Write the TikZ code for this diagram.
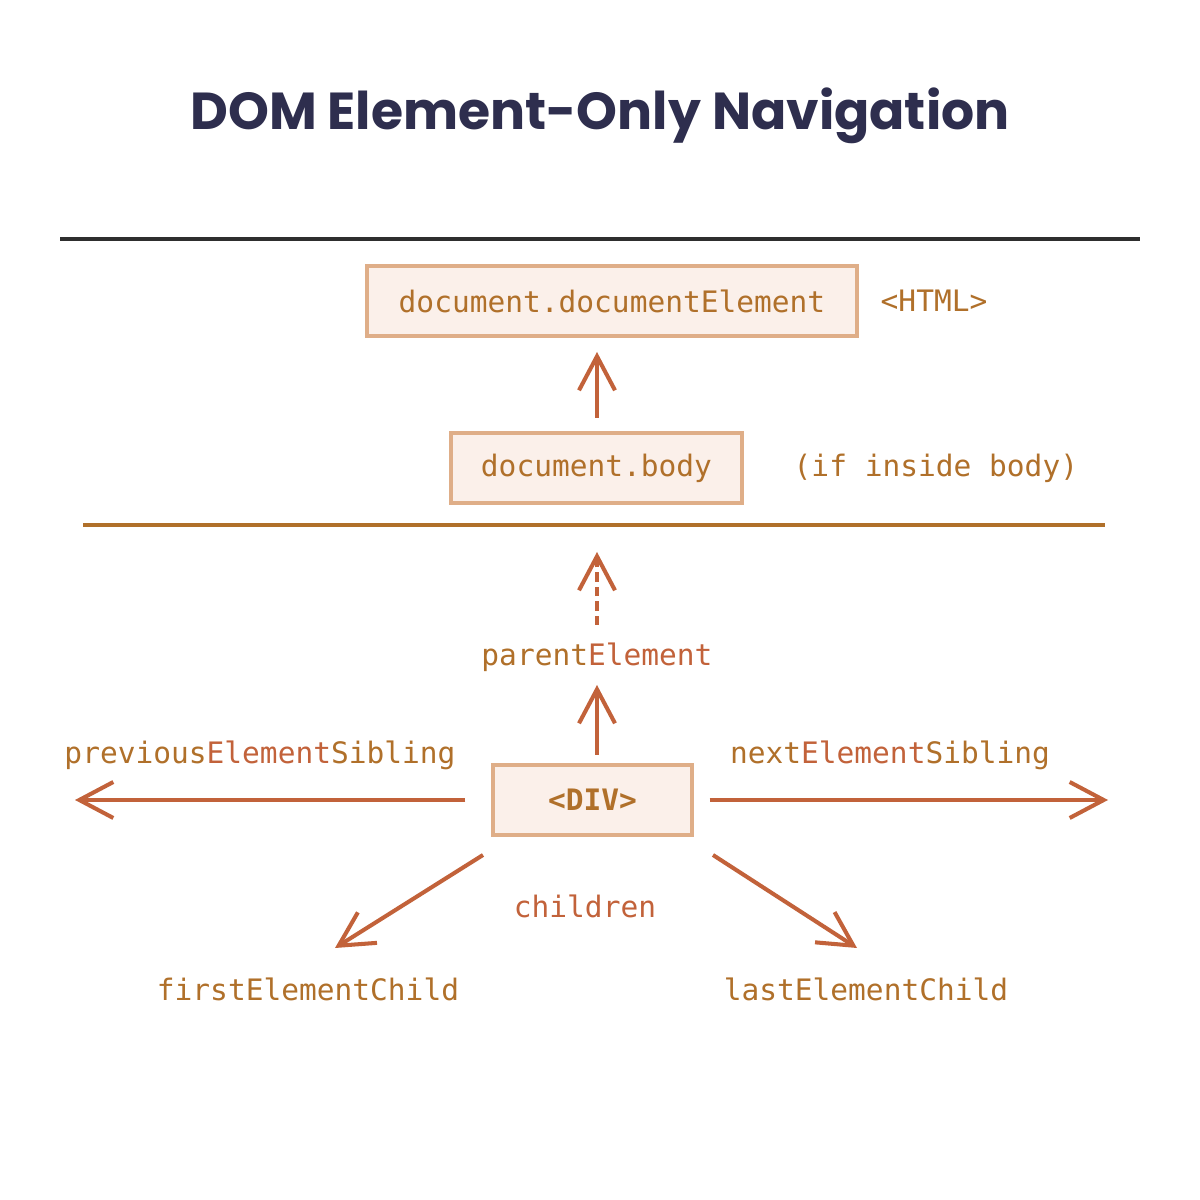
\documentclass[tikz,border=0pt]{standalone}
\usepackage{fontspec}
\setmonofont{DejaVu Sans Mono}
\newfontfamily\titlefont{Poppins}
\usetikzlibrary{arrows.meta}
\definecolor{navtitle}{HTML}{2E2E4E}
\definecolor{ochre}{HTML}{B0702A}
\definecolor{rust}{HTML}{C2623A}
\definecolor{boxline}{HTML}{DFAE88}
\definecolor{boxfill}{HTML}{FBF0EA}
\tikzset{
  domtext/.style={font=\ttfamily\fontsize{8.4}{10}\selectfont, text=ochre, inner sep=0pt},
  dombox/.style={domtext, draw=boxline, fill=boxfill, line width=0.9pt, minimum height=0.7cm},
  navarrow/.style={draw=rust, line width=1.15pt, -{Straight Barb[length=3.4mm,width=3.6mm,line width=1.15pt]}}
}
\begin{document}
\begin{tikzpicture}
\fill[white] (0,0) rectangle (12,12);
\useasboundingbox (0,0) rectangle (12,12);
% title
\node[font=\titlefont\bfseries\fontsize{14.8}{17}\selectfont, text=navtitle] (title) at (6,10.84) {DOM Element-Only Navigation};
\draw[line width=1.1pt, color=black!82] (0.6,9.61) -- (11.4,9.61);
% root elements
\node[dombox, minimum width=4.9cm] (htmlbox) at (6.12,8.99) {document.documentElement};
\node[domtext, anchor=west] (htmltag) at (8.8,8.99) {<HTML>};
\node[dombox, minimum width=2.91cm] (bodybox) at (5.965,7.32) {document.body};
\node[domtext, anchor=west] (bodynote) at (7.93,7.32) {(if inside body)};
\coordinate (bodytop) at (5.97,7.82);
\coordinate (htmlbottom) at (5.97,8.48);
\draw[navarrow] (bodytop) -- (htmlbottom);
\draw[line width=0.9pt, color=ochre] (0.83,6.75) -- (11.05,6.75);
% the element
\node[dombox, minimum width=1.99cm, font=\ttfamily\bfseries\fontsize{8.4}{10}\selectfont] (div) at (5.925,4.0) {<DIV>};
\node[domtext] (parent) at (5.97,5.43) {parent\textcolor{rust}{Element}};
\node[domtext] (prev) at (2.6,4.45) {previous\textcolor{rust}{Element}Sibling};
\node[domtext] (next) at (8.9,4.45) {next\textcolor{rust}{Element}Sibling};
\node[domtext, text=rust] (children) at (5.85,2.94) {children};
\node[domtext] (first) at (3.08,2.11) {firstElementChild};
\node[domtext] (last) at (8.66,2.11) {lastElementChild};
\coordinate (dashstart) at (5.97,5.75);
\coordinate (up) at (5.97,6.48);
\coordinate (divtop) at (5.97,4.45);
\coordinate (parentlow) at (5.97,5.15);
\coordinate (left) at (0.75,4.0);
\coordinate (right) at (11.08,4.0);
\coordinate (downleft) at (3.35,2.52);
\coordinate (downright) at (8.57,2.52);
\draw[navarrow, dash pattern=on 2.7pt off 1.4pt] (dashstart) -- (up);
\draw[navarrow] (divtop) -- (parentlow);
\draw[navarrow] (div.west) ++(-0.26,0) -- (left);
\draw[navarrow] (div.east) ++(0.16,0) -- (right);
\draw[navarrow] (4.83,3.45) -- (downleft);
\draw[navarrow] (7.13,3.45) -- (downright);
\end{tikzpicture}
\end{document}
